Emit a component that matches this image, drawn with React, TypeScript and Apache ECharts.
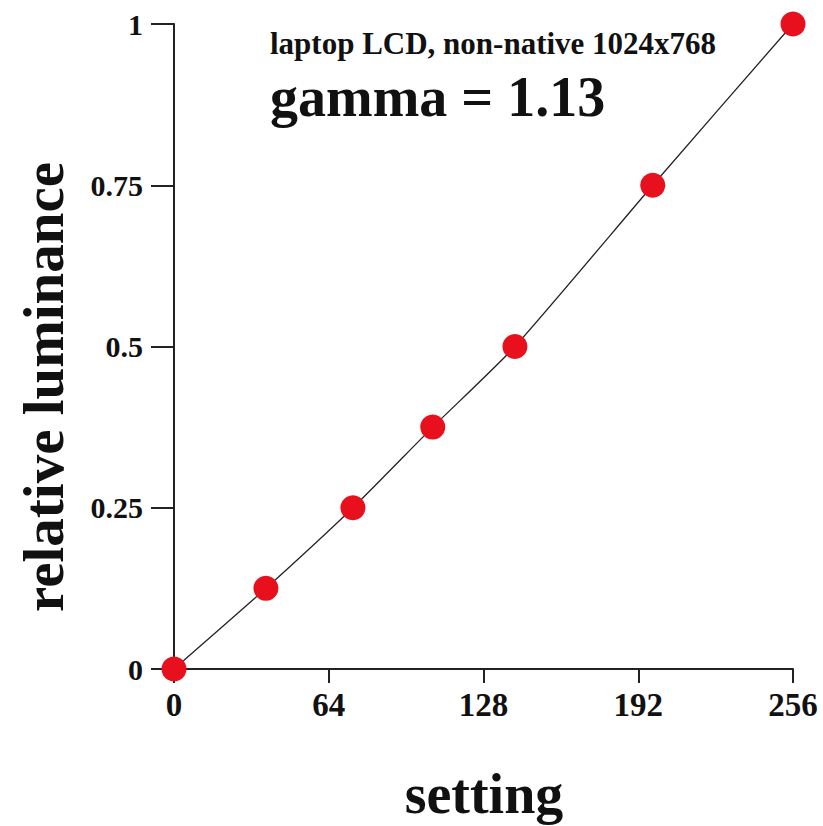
import React, { useEffect, useRef } from "react";
import * as echarts from "echarts";

const settings = [0, 38, 74, 107, 141, 198, 256];
const luminance = [0, 0.125, 0.25, 0.375, 0.5, 0.75, 1];
const xTicks = [0, 64, 128, 192, 256];
const yTicks = [0, 0.25, 0.5, 0.75, 1];
const subtitle = "laptop LCD, non-native 1024x768";
const gammaText = "gamma = 1.13";
const xName = "setting";
const yName = "relative luminance";

const FONT = "'Liberation Serif', 'Times New Roman', serif";

export default function App() {
  const ref = useRef<HTMLDivElement>(null);
  useEffect(() => {
    if (!ref.current) return;
    const chart = echarts.init(ref.current, undefined, { renderer: "svg" });
    const axisStyle = { color: "#222", width: 2 };
    chart.setOption({
      animation: false,
      backgroundColor: "#ffffff",
      grid: { left: 174, right: 30, top: 24, bottom: 157, containLabel: false },
      xAxis: {
        type: "value",
        min: xTicks[0],
        max: xTicks[xTicks.length - 1],
        interval: 64,
        axisLine: { show: true, lineStyle: axisStyle },
        axisTick: { show: true, length: 14, lineStyle: axisStyle },
        splitLine: { show: false },
        axisLabel: {
          margin: 19,
          color: "#111",
          fontFamily: FONT,
          fontWeight: "bold",
          fontSize: 33,
          formatter: (v: number) => (xTicks.includes(v) ? String(v) : ""),
        },
      },
      yAxis: {
        type: "value",
        min: yTicks[0],
        max: yTicks[yTicks.length - 1],
        interval: 0.25,
        axisLine: { show: true, lineStyle: axisStyle },
        axisTick: { show: true, length: 23, lineStyle: axisStyle },
        splitLine: { show: false },
        axisLabel: {
          margin: 31,
          color: "#111",
          fontFamily: FONT,
          fontWeight: "bold",
          fontSize: 30,
          formatter: (v: number) => String(v),
        },
      },
      series: [
        {
          type: "line",
          data: settings.map((s, i) => [s, luminance[i]]),
          smooth: 0.2,
          symbol: "circle",
          symbolSize: 25,
          itemStyle: { color: "#e8101c" },
          lineStyle: { color: "#222", width: 1.3 },
          z: 5,
        },
      ],
      graphic: [
        {
          type: "text",
          left: 270,
          top: 28,
          style: {
            text: subtitle,
            fontFamily: FONT,
            fontWeight: "bold",
            fontSize: 31,
            fill: "#111",
          },
        },
        {
          type: "text",
          left: 270,
          top: 69,
          style: {
            text: gammaText,
            fontFamily: FONT,
            fontWeight: "bold",
            fontSize: 56,
            fill: "#111",
          },
        },
        {
          type: "text",
          x: 43,
          y: 387,
          rotation: Math.PI / 2,
          style: {
            text: yName,
            fontFamily: FONT,
            fontWeight: "bold",
            fontSize: 57,
            fill: "#111",
            align: "center",
            verticalAlign: "middle",
          },
        },
        {
          type: "text",
          x: 484,
          y: 794,
          style: {
            text: xName,
            fontFamily: FONT,
            fontWeight: "bold",
            fontSize: 56,
            fill: "#111",
            align: "center",
            verticalAlign: "middle",
          },
        },
      ],
    });
    return () => chart.dispose();
  }, []);
  return <div ref={ref} style={{ width: 823, height: 826, position: "absolute", left: 0, top: 0 }} />;
}
